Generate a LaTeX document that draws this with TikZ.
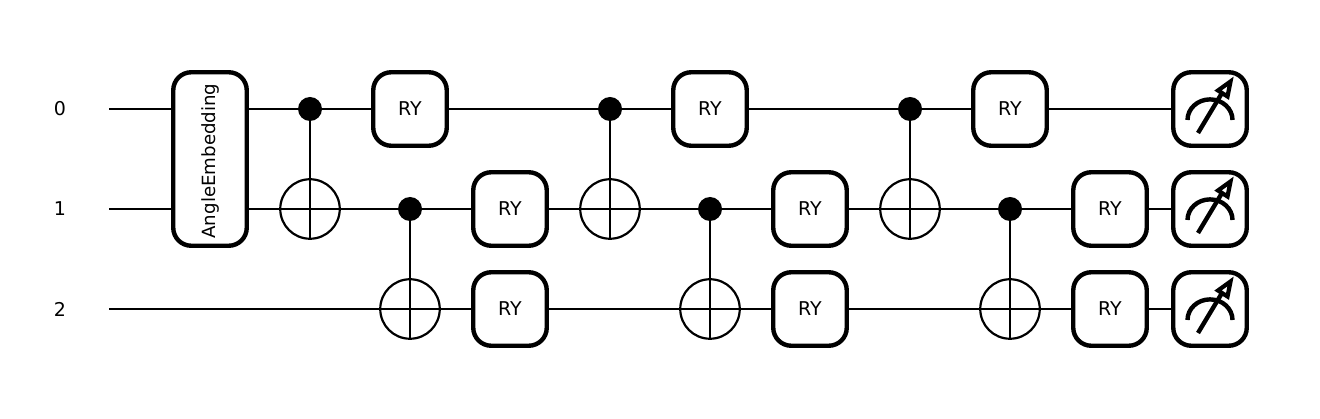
\documentclass[tikz,border=0pt]{standalone}
\usepackage{fontspec}
\setmainfont{DejaVu Sans}
\usetikzlibrary{calc}
\newcommand{\gatefont}{\fontsize{19}{20}\selectfont}
\newcommand{\embfont}{\fontsize{18.2}{20}\selectfont}
\tikzset{
  x=1pt,y=-1pt,
  wire/.style={line width=2.2pt},
  gatebox/.style={draw,fill=white,line width=4.4pt,rounded corners=18pt,minimum width=73.5pt,minimum height=73.5pt,inner sep=0pt,outer sep=0pt,font=\gatefont},
  tallbox/.style={gatebox,minimum height=173.5pt,font=\embfont},
  ctrl/.style={circle,fill=black,draw=none,minimum size=24pt,inner sep=0pt,outer sep=0pt},
  targ/.style={circle,draw,line width=2.2pt,minimum size=59.5pt,inner sep=0pt,outer sep=0pt},
  wlabel/.style={font=\gatefont,inner sep=0pt},
  dial/.style={line width=4.4pt},
}
\newcommand{\meter}[3]{% name, x, y
  \node[gatebox] (#1) at (#2,#3) {};
  \draw[dial] ($(#1)+(-22.5,11)$) arc[start angle=180,end angle=360,x radius=22.5,y radius=20.6];
  \draw[dial,line cap=butt] ($(#1)+(-12,24)$) -- ($(#1)+(15,-21)$);
  \draw[line width=4.2pt,line join=miter,fill=white] ($(#1)+(20.5,-27.5)$) -- ($(#1)+(17.5,-12.5)$) -- ($(#1)+(8,-18.5)$) -- cycle;
}
\begin{document}
\begin{tikzpicture}
\useasboundingbox (0,0) rectangle (1320,419);
% wire labels
\node[wlabel] (l0) at (60,109) {0};
\node[wlabel] (l1) at (60,209) {1};
\node[wlabel] (l2) at (60,309) {2};
\coordinate (s0) at (109,109);
\coordinate (s1) at (109,209);
\coordinate (s2) at (109,309);
\coordinate (e0) at (1210,109);
\coordinate (e1) at (1210,209);
\coordinate (e2) at (1210,309);
\draw[wire] (s0) -- (e0);
\draw[wire] (s1) -- (e1);
\draw[wire] (s2) -- (e2);
% embedding
\node[tallbox] (emb) at (210,159) {};
\node[font=\embfont,rotate=90,inner sep=0pt] (embtext) at (210,161) {AngleEmbedding};
% CNOT layers
\foreach \n/\cx/\cy/\ty in {a/310/109/209,b/410/209/309,c/610/109/209,d/710/209/309,e/910/109/209,f/1010/209/309}{
  \node[ctrl] (c\n) at (\cx,\cy) {};
  \node[targ] (t\n) at (\cx,\ty) {};
  \draw[wire] (c\n.center) -- (t\n.south);
}
% RY gates
\foreach \n/\gx/\gy in {g1/410/109,g2/510/209,g3/510/309,g4/710/109,g5/810/209,g6/810/309,g7/1010/109,g8/1110/209,g9/1110/309}{
  \node[gatebox] (\n) at (\gx,\gy) {RY};
}
\meter{m0}{1210}{109}
\meter{m1}{1210}{209}
\meter{m2}{1210}{309}
\end{tikzpicture}
\end{document}
